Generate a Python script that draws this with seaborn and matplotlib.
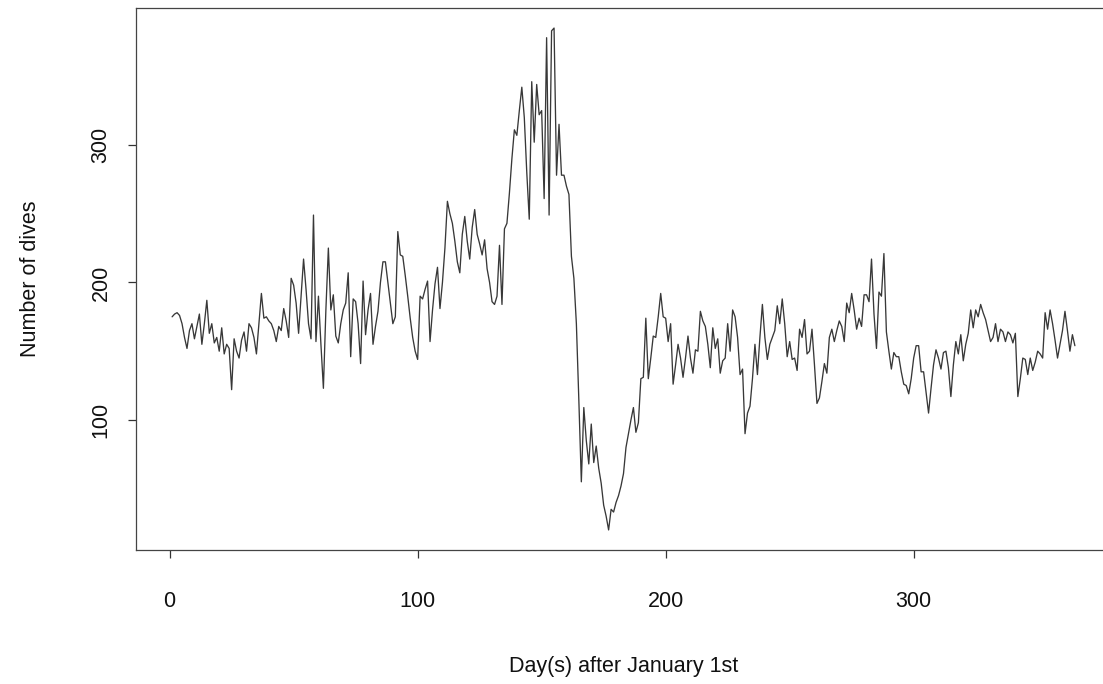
"""
Daily dive counts over the year, drawn in the look of an R base plot.
"""
import matplotlib as mpl
mpl.use("Agg")
import matplotlib.pyplot as plt
import numpy as np
import pandas as pd
import seaborn as sns


# number of dives per day (days 1..365)
dives = [
    175, 177, 178, 176, 170, 160, 152, 165, 170, 159,
    168, 177, 155, 170, 187, 163, 170, 156, 160, 150,
    167, 148, 155, 152, 122, 159, 150, 145, 158, 164,
    150, 170, 167, 160, 148, 170, 192, 174, 175, 172,
    170, 165, 157, 168, 165, 181, 172, 160, 203, 198,
    185, 163, 190, 217, 195, 170, 159, 249, 157, 190,
    155, 123, 180, 225, 180, 191, 161, 156, 170, 180,
    185, 207, 146, 188, 186, 170, 141, 201, 162, 180,
    192, 155, 168, 179, 200, 215, 215, 200, 185, 170,
    175, 237, 220, 219, 205, 190, 174, 160, 150, 144,
    190, 188, 195, 201, 157, 180, 199, 211, 181, 200,
    225, 259, 250, 243, 230, 215, 207, 235, 248, 230,
    217, 240, 253, 235, 228, 220, 231, 210, 200, 186,
    184, 190, 227, 184, 239, 243, 265, 290, 311, 307,
    325, 342, 320, 280, 246, 346, 302, 344, 322, 325,
    261, 378, 249, 383, 385, 278, 315, 278, 278, 270,
    264, 219, 203, 170, 114, 55, 109, 85, 68, 97,
    69, 81, 65, 54, 38, 30, 20, 35, 33, 40,
    45, 52, 61, 80, 90, 100, 109, 91, 98, 130,
    131, 174, 130, 145, 161, 160, 175, 192, 175, 174,
    157, 170, 126, 140, 155, 145, 131, 145, 161, 145,
    134, 151, 150, 179, 172, 168, 155, 138, 167, 152,
    159, 134, 143, 145, 170, 150, 180, 175, 160, 133,
    137, 90, 105, 110, 130, 155, 133, 160, 184, 160,
    144, 155, 160, 165, 183, 170, 188, 170, 146, 157,
    144, 145, 136, 166, 160, 173, 148, 150, 166, 140,
    112, 116, 128, 141, 134, 160, 166, 157, 165, 172,
    168, 157, 185, 178, 192, 180, 166, 174, 168, 191,
    191, 186, 217, 177, 152, 193, 190, 221, 164, 150,
    137, 149, 146, 146, 135, 126, 125, 119, 130, 145,
    154, 154, 135, 135, 120, 105, 123, 140, 151, 145,
    137, 149, 150, 138, 117, 140, 157, 148, 162, 143,
    155, 163, 180, 167, 180, 175, 184, 178, 173, 165,
    157, 160, 170, 157, 166, 164, 157, 164, 162, 156,
    163, 117, 130, 145, 144, 133, 145, 136, 142, 150,
    148, 145, 178, 166, 180, 170, 158, 145, 155, 165,
    179, 165, 150, 162, 154,
]
days = list(range(1, len(dives) + 1))

x_ticks = [0, 100, 200, 300]
y_ticks = [100, 200, 300]


def _set_style():
    sns.set_style("ticks")
    plt.rcParams["font.family"] = ["Liberation Sans", "DejaVu Sans"]


def make_data():
    return pd.DataFrame({"day": days, "dives": dives})


def draw_plot(df):
    fig = plt.figure(figsize=(11.03, 6.84), dpi=100)
    # R-style plot region; the right edge runs past the (cropped) image
    ax = fig.add_axes([136 / 1103, 1 - 550 / 684, (1111 - 136) / 1103, 542 / 684])
    sns.lineplot(data=df, x="day", y="dives", ax=ax, color="#383838", linewidth=0.95)
    return fig, ax


def style_axes(ax, df):
    # R pads the data range by 4% on each side
    xr = df.day.max() - df.day.min()
    yr = df.dives.max() - df.dives.min()
    ax.set_xlim(df.day.min() - 0.04 * xr, df.day.max() + 0.04 * xr)
    ax.set_ylim(df.dives.min() - 0.04 * yr, df.dives.max() + 0.04 * yr)
    ax.set_xticks(x_ticks)
    ax.set_yticks(y_ticks)
    ax.tick_params(axis="both", direction="out", length=5.5, width=0.9,
                   color="#333333", labelsize=15.5, labelcolor="#111111")
    ax.tick_params(axis="x", pad=24)
    ax.tick_params(axis="y", pad=12)
    for label in ax.get_yticklabels():
        label.set_rotation(90)
        label.set_va("center")
    for spine in ax.spines.values():
        spine.set_visible(True)
        spine.set_color("#444444")
        spine.set_linewidth(0.9)
    ax.set_xlabel("Day(s) after January 1st", fontsize=15.5, labelpad=32, color="#111111")
    ax.set_ylabel("Number of dives", fontsize=15.5, labelpad=36, color="#111111")


def main():
    _set_style()
    df = make_data()
    fig, ax = draw_plot(df)
    style_axes(ax, df)
    fig.savefig("out.png", dpi=100)


if __name__ == "__main__":
    main()
